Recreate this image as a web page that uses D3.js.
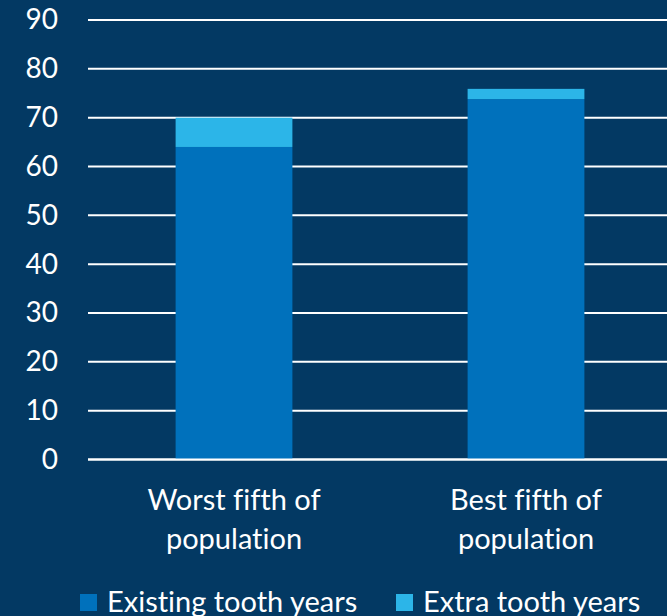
<!DOCTYPE html>
<html>
<head>
<meta charset="utf-8">
<script src="https://cdn.jsdelivr.net/npm/d3@7"></script>
<style>
  html, body { margin: 0; padding: 0; background: #033963; }
  svg { display: block; }
  text { font-family: Lato, "Open Sans", sans-serif; fill: #ffffff; font-variant-ligatures: none; font-feature-settings: "liga" 0; }
</style>
</head>
<body>
<div id="chart"></div>
<script>
// chart data
var categories = ["Worst fifth of population", "Best fifth of population"];
var categoryLines = [["Worst fifth of", "population"], ["Best fifth of", "population"]];
var existingYears = [64, 73.8];
var extraYears = [6, 2.1];
var seriesNames = ["Existing tooth years", "Extra tooth years"];
var yTicks = [0, 10, 20, 30, 40, 50, 60, 70, 80, 90];

var svgWidth = 667;
var svgHeight = 616;

// plot area
var margin = { top: 20, left: 88 };
var plotWidth = 584;
var plotHeight = 439.5;

var colors = ["#0071bc", "#2cb5e8"];

var svg = d3.select("#chart")
    .append("svg")
    .attr("width", svgWidth)
    .attr("height", svgHeight);

var chartGroup = svg.append("g")
    .attr("transform", `translate(${margin.left},${margin.top})`);

// scales
var xScale = d3.scaleBand()
    .domain(categories)
    .range([0, plotWidth])
    .paddingInner(0.6)
    .paddingOuter(0.3);

var yScale = d3.scaleLinear()
    .domain([0, 90])
    .range([plotHeight, 0]);

// gridlines
chartGroup.selectAll(".grid")
    .data(yTicks)
    .enter()
    .append("line")
    .attr("class", "grid")
    .attr("x1", 0)
    .attr("x2", plotWidth)
    .attr("y1", d => yScale(d))
    .attr("y2", d => yScale(d))
    .attr("stroke", "#ffffff")
    .attr("stroke-width", 2);

// y tick labels
var yAxis = d3.axisLeft(yScale)
    .tickValues(yTicks)
    .tickSize(0)
    .tickPadding(30);

var yAxisGroup = chartGroup.append("g").call(yAxis);
yAxisGroup.select(".domain").remove();
yAxisGroup.selectAll("text")
    .attr("font-size", "28px")
    .attr("font-family", "Lato, sans-serif")
    .attr("fill", "#ffffff");

// stacked bars
var stackData = categories.map((c, i) => ({ cat: c, existing: existingYears[i], extra: extraYears[i] }));
var stacked = d3.stack().keys(["existing", "extra"])(stackData);

chartGroup.selectAll(".series")
    .data(stacked)
    .enter()
    .append("g")
    .attr("class", "series")
    .attr("fill", (d, i) => colors[i])
    .selectAll("rect")
    .data(d => d)
    .enter()
    .append("rect")
    .attr("x", d => xScale(d.data.cat))
    .attr("width", xScale.bandwidth())
    .attr("y", d => yScale(d[1]))
    .attr("height", d => yScale(d[0]) - yScale(d[1]));

// baseline on top of bars
chartGroup.append("line")
    .attr("x1", 0)
    .attr("x2", plotWidth)
    .attr("y1", yScale(0))
    .attr("y2", yScale(0))
    .attr("stroke", "#ffffff")
    .attr("stroke-width", 2);

// x category labels
var xLabels = chartGroup.selectAll(".xlabel")
    .data(categories)
    .enter()
    .append("text")
    .attr("class", "xlabel")
    .attr("text-anchor", "middle")
    .attr("font-size", "29px")
    .attr("transform", d => `translate(${xScale(d) + xScale.bandwidth() / 2},${plotHeight + 50})`);

xLabels.selectAll("tspan")
    .data((d, i) => categoryLines[i])
    .enter()
    .append("tspan")
    .attr("x", 0)
    .attr("y", (d, i) => i * 39)
    .text(d => d);

// legend
var legendX = [80, 396];
var legend = svg.selectAll(".legend")
    .data(seriesNames)
    .enter()
    .append("g")
    .attr("class", "legend")
    .attr("transform", (d, i) => `translate(${legendX[i]},594)`);

legend.append("rect")
    .attr("width", 17)
    .attr("height", 17)
    .attr("fill", (d, i) => colors[i]);

legend.append("text")
    .attr("x", 27)
    .attr("y", 18)
    .attr("font-size", "29px")
    .text(d => d);
</script>
</body>
</html>
